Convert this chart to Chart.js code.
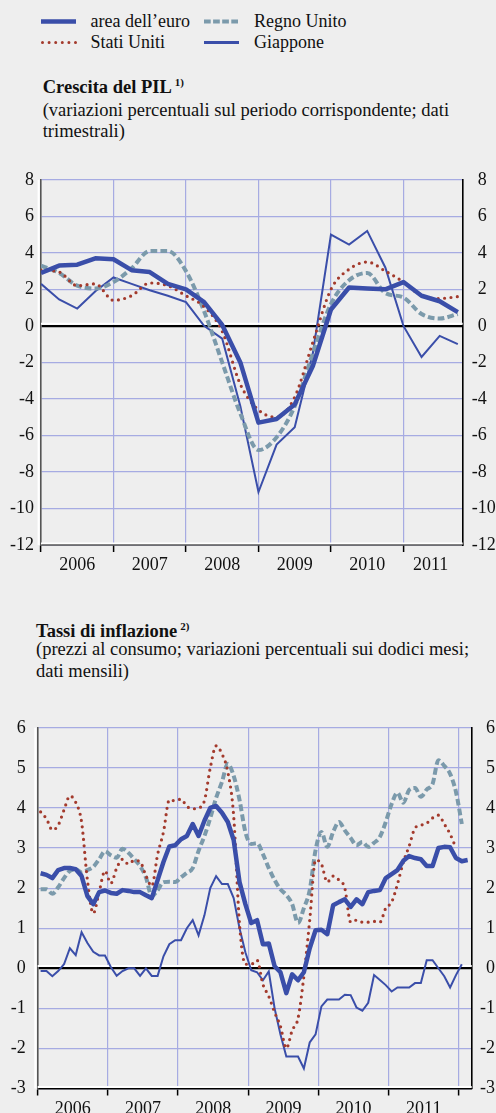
<!DOCTYPE html>
<html><head><meta charset="utf-8">
<script src="https://cdn.jsdelivr.net/npm/chart.js@4.4.1/dist/chart.umd.min.js"></script>
<style>
html,body{margin:0;padding:0;background:#eeeeee;}
body{width:496px;height:1113px;position:relative;overflow:hidden;font-family:'Liberation Serif','Times New Roman',serif;color:#111;}
.t{position:absolute;white-space:nowrap;font-size:18.5px;line-height:21px;}
.b{font-weight:bold;}
.sup{font-size:11px;font-weight:bold;position:relative;top:-7px;margin-left:3px;}
.leg{position:absolute;font-size:18px;line-height:21px;white-space:nowrap;}
svg.sw{position:absolute;overflow:visible;}
canvas{display:block;position:absolute;left:0;}
</style></head><body>

<svg class="sw" style="left:41px;top:17px" width="36" height="9"><line x1="0" y1="4.5" x2="35" y2="4.5" stroke="#3a4ea9" stroke-width="4.5"/></svg>
<div class="leg" style="left:90.5px;top:10.6px">area dell’euro</div>
<svg class="sw" style="left:204px;top:17px" width="36" height="9"><line x1="0" y1="4.5" x2="35" y2="4.5" stroke="#7b9aab" stroke-width="4" stroke-dasharray="6.7 2.4"/></svg>
<div class="leg" style="left:254px;top:10.6px">Regno Unito</div>
<svg class="sw" style="left:41px;top:38px" width="36" height="9"><line x1="1.5" y1="4.5" x2="35" y2="4.5" stroke="#a33a2c" stroke-width="3" stroke-linecap="round" stroke-dasharray="0 6.6"/></svg>
<div class="leg" style="left:90.5px;top:31.6px">Stati Uniti</div>
<svg class="sw" style="left:204px;top:38px" width="36" height="9"><line x1="0" y1="4.5" x2="35" y2="4.5" stroke="#3a4ea9" stroke-width="3"/></svg>
<div class="leg" style="left:254px;top:31.6px">Giappone</div>

<div class="t b" style="left:42.7px;top:77.1px">Crescita del PIL<span class="sup">1)</span></div>
<div class="t" style="left:42.7px;top:99.7px">(variazioni percentuali sul periodo corrispondente; dati</div>
<div class="t" style="left:42.7px;top:121px">trimestrali)</div>

<canvas id="c1" width="496" height="430" style="top:160px"></canvas>

<div class="t b" style="left:36px;top:621.1px">Tassi di inflazione<span class="sup">2)</span></div>
<div class="t" style="left:36px;top:639.4px">(prezzi al consumo; variazioni percentuali sui dodici mesi;</div>
<div class="t" style="left:36px;top:661.1px">dati mensili)</div>

<canvas id="c2" width="496" height="408" style="top:705px"></canvas>

<script>
// ---------- data ----------
const yearLabels = ['2006','2007','2008','2009','2010','2011'];
const seriesNames = ['area dell’euro','Stati Uniti','Regno Unito','Giappone'];

// GDP growth, quarterly 2006Q1 - 2011Q4
const gdpEuro  = [2.9, 3.3, 3.35, 3.7, 3.65, 3.05, 2.95, 2.3, 2.0, 1.3, 0.05, -2.0, -5.3, -5.1, -4.3, -2.2, 0.9, 2.1, 2.05, 2.0, 2.4, 1.65, 1.35, 0.75];
const gdpUS    = [3.05, 2.95, 2.2, 2.3, 1.4, 1.65, 2.35, 2.2, 1.65, 1.05, -0.3, -3.2, -4.6, -5.0, -3.9, -0.9, 2.0, 3.1, 3.5, 3.0, 2.4, 1.65, 1.5, 1.6];
const gdpUK    = [3.3, 2.9, 2.2, 2.05, 2.4, 3.15, 4.1, 4.1, 3.0, 0.8, -2.0, -4.8, -6.8, -6.1, -4.4, -1.5, 1.2, 2.5, 2.9, 1.8, 1.55, 0.65, 0.4, 0.65];
const gdpJapan = [2.3, 1.45, 0.95, 1.9, 2.65, 2.3, 1.95, 1.65, 1.3, 0.0, -0.7, -4.4, -9.1, -6.5, -5.55, -1.5, 5.0, 4.45, 5.2, 3.2, 0.0, -1.7, -0.55, -1.0];
const gdpYTicks = {min: -12, max: 8, step: 2};

// Consumer price inflation, monthly from Jan 2006
const cpiEuro = [2.37, 2.33, 2.25, 2.45, 2.5, 2.5, 2.47, 2.3, 1.8, 1.6, 1.9, 1.94,
  1.88, 1.86, 1.95, 1.93, 1.9, 1.9, 1.82, 1.75, 2.2, 2.65, 3.04, 3.07,
  3.22, 3.3, 3.6, 3.3, 3.68, 4.0, 4.05, 3.88, 3.65, 3.2, 2.15, 1.6,
  1.13, 1.2, 0.6, 0.62, 0.05, -0.1, -0.62, -0.15, -0.3, -0.1, 0.5, 0.95,
  0.96, 0.85, 1.57, 1.65, 1.72, 1.53, 1.72, 1.6, 1.9, 1.93, 1.95, 2.25,
  2.35, 2.45, 2.68, 2.8, 2.75, 2.72, 2.55, 2.55, 3.0, 3.03, 3.02, 2.75,
  2.67, 2.7];
const cpiUS = [3.9, 3.73, 3.45, 3.57, 3.95, 4.3, 4.14, 3.65, 2.2, 1.37, 1.9, 2.43,
  2.12, 2.5, 2.72, 2.6, 2.69, 2.66, 2.31, 2.05, 2.84, 3.4, 4.2, 4.18,
  4.22, 4.04, 3.98, 4.0, 4.18, 5.0, 5.55, 5.35, 4.9, 3.8, 1.1, 0.1,
  0.1, 0.2, -0.4, -0.7, -1.1, -1.45, -2.0, -1.55, -1.25, -0.2, 1.2, 2.7,
  2.6, 2.15, 2.3, 2.2, 2.0, 1.15, 1.2, 1.15, 1.15, 1.17, 1.15, 1.5,
  1.65, 2.1, 2.65, 3.05, 3.5, 3.57, 3.62, 3.75, 3.82, 3.6, 3.35, 3.0];
const cpiUK = [1.97, 1.97, 1.86, 2.02, 2.25, 2.43, 2.47, 2.39, 2.45, 2.53, 2.72, 2.92,
  2.82, 2.76, 2.98, 2.88, 2.72, 2.55, 2.27, 1.8, 1.95, 2.15, 2.16, 2.15,
  2.27, 2.38, 2.5, 2.93, 3.3, 3.75, 4.25, 4.65, 5.1, 4.8, 4.2, 3.4,
  3.1, 3.12, 2.85, 2.5, 2.2, 1.97, 1.83, 1.6, 1.13, 1.5, 1.95, 2.95,
  3.4, 3.03, 3.4, 3.65, 3.44, 3.25, 3.07, 3.15, 3.03, 3.13, 3.28, 3.65,
  4.1, 4.38, 4.13, 4.45, 4.5, 4.28, 4.46, 4.6, 5.19, 5.05, 4.85, 4.4,
  3.6];
const cpiJapan = [-0.07, -0.07, -0.2, -0.07, 0.1, 0.5, 0.33, 0.9, 0.63, 0.41, 0.32, 0.32,
  0.03, -0.19, -0.07, 0.0, 0.0, -0.19, 0.0, -0.19, -0.19, 0.3, 0.6, 0.7,
  0.7, 1.0, 1.2, 0.82, 1.32, 2.0, 2.3, 2.1, 2.1, 1.75, 1.0, 0.4,
  -0.05, -0.1, -0.3, -0.08, -1.0, -1.65, -2.2, -2.2, -2.2, -2.5, -1.85, -1.65,
  -0.95, -0.78, -0.78, -0.78, -0.66, -0.67, -0.98, -1.06, -0.86, -0.17, -0.29, -0.42,
  -0.58, -0.48, -0.48, -0.48, -0.37, -0.37, 0.2, 0.2, 0.0, -0.2, -0.48, -0.17,
  0.1];
const cpiYTicks = {min: -3, max: 6, step: 1};

// ---------- styling ----------
const BLUE = '#3a4ea9', RED = '#a33a2c', GREY = '#7b9aab', GRID = '#a6abe2';
const FONT = {family: "'Liberation Serif','Times New Roman',serif", size: 18};

function styles() {
  return [
    {label: seriesNames[0], borderColor: BLUE, borderWidth: 4.5, tension: 0, borderJoinStyle: 'round'},
    {label: seriesNames[1], borderColor: RED, borderWidth: 3.2, borderDash: [0, 6.4], borderCapStyle: 'round', cubicInterpolationMode: 'monotone'},
    {label: seriesNames[2], borderColor: GREY, borderWidth: 4, borderDash: [6.7, 3.2], cubicInterpolationMode: 'monotone'},
    {label: seriesNames[3], borderColor: BLUE, borderWidth: 2, tension: 0}
  ];
}

const decor = {
  id: 'decor',
  beforeDatasetsDraw(chart) {
    const {ctx, chartArea: a, scales} = chart;
    const y0 = scales.y.getPixelForValue(0);
    ctx.save();
    ctx.strokeStyle = '#ffffff';
    ctx.lineWidth = 2;
    ctx.beginPath();
    ctx.moveTo(a.left, y0 - 2.2); ctx.lineTo(a.right, y0 - 2.2);
    ctx.moveTo(a.left, a.bottom - 1.6); ctx.lineTo(a.right, a.bottom - 1.6);
    ctx.moveTo(a.left - 2.4, a.top); ctx.lineTo(a.left - 2.4, a.bottom);
    ctx.stroke();
    ctx.restore();
  }
};

function makeChart(id, cfg) {
  const sets = styles().map((s, k) => Object.assign(s, {
    data: cfg.series[k].map((v, i) => ({x: i + cfg.xShift, y: v})),
    pointRadius: 0, fill: false
  }));
  return new Chart(document.getElementById(id), {
    type: 'line',
    data: {datasets: sets},
    plugins: [decor],
    options: {
      responsive: false, animation: false,
      layout: {padding: {top: cfg.padTop, left: 0, right: 0, bottom: 0}},
      plugins: {legend: {display: false}, tooltip: {enabled: false}},
      scales: {
        x: {
          type: 'linear', position: 'bottom', min: 0, max: cfg.xMax,
          afterBuildTicks: s => { s.ticks = cfg.yearBounds.map(v => ({value: v})); },
          afterFit: s => { s.height = 7; },
          ticks: {display: false},
          grid: {
            color: c => (c.tick && c.tick.value === 0) ? 'rgba(0,0,0,0)' : GRID,
            lineWidth: 1.2, drawTicks: true, tickLength: 7, tickColor: '#000', tickWidth: 1.5
          },
          border: {display: true, color: '#000', width: 1.6}
        },
        xl: {
          type: 'linear', position: 'bottom', min: 0, max: cfg.xMax,
          afterBuildTicks: s => { s.ticks = cfg.yearCenters.map(v => ({value: v})); },
          afterFit: s => { s.height = cfg.labH; },
          ticks: {
            autoSkip: false, maxRotation: 0, padding: 2.7, font: FONT, color: '#111',
            callback: (v, i) => yearLabels[i]
          },
          grid: {display: false, drawTicks: false},
          border: {display: false}
        },
        y: {
          position: 'left', min: cfg.yt.min, max: cfg.yt.max,
          afterFit: s => { s.width = cfg.left; },
          ticks: {stepSize: cfg.yt.step, padding: cfg.lpad, font: FONT, color: '#111'},
          grid: {
            color: c => c.tick.value === 0 ? '#000' : GRID,
            lineWidth: c => c.tick.value === 0 ? 2.2 : 1.2, drawTicks: false
          },
          border: {display: true, color: '#555', width: 1.6}
        },
        yr: {
          position: 'right', min: cfg.yt.min, max: cfg.yt.max,
          afterFit: s => { s.width = cfg.right; },
          ticks: {stepSize: cfg.yt.step, padding: cfg.rpad, font: FONT, color: '#111',
            callback: v => v < 0 ? String(v) : '\u2004' + v},
          grid: {display: false, drawTicks: false},
          border: {display: true, color: '#000', width: 1.6}
        }
      }
    }
  });
}

makeChart('c1', {
  series: [gdpEuro, gdpUS, gdpUK, gdpJapan], xShift: 0, xMax: 23.27,
  yearBounds: [0, 4, 8, 12, 16, 20], yearCenters: [2, 6, 10, 14, 18, 21.5],
  yt: gdpYTicks, padTop: 16, left: 41, right: 33.3, lpad: 7, rpad: 9, labH: 38
});

makeChart('c2', {
  series: [cpiEuro, cpiUS, cpiUK, cpiJapan], xShift: 0.5, xMax: 74.19,
  yearBounds: [0, 12, 24, 36, 48, 60, 72], yearCenters: [6, 18, 30, 42, 54, 66],
  yt: cpiYTicks, padTop: 14.3, left: 37.7, right: 24.3, lpad: 12, rpad: 8.3, labH: 17.5
});
</script>
</body></html>
